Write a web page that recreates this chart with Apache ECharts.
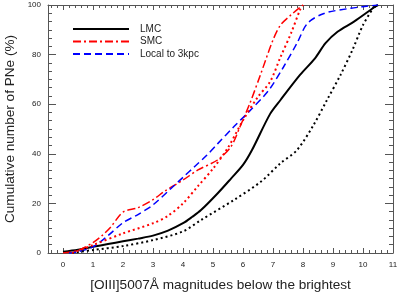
<!DOCTYPE html>
<html><head><meta charset="utf-8">
<script src="https://cdn.jsdelivr.net/npm/echarts@6/dist/echarts.min.js"></script>
<style>html,body{margin:0;padding:0;background:#fff}#c{width:399px;height:296px}</style>
</head><body><div id="c"></div>
<script>
const xTicks = [0,1,2,3,4,5,6,7,8,9,10,11];
const lmc = [[0,0.5],[0.5,1.3],[1,2.5],[1.5,3.6],[2,4.7],[2.5,5.8],[3,7],[3.5,9],[4,12],[4.3,14.5],[4.6,17.3],[5.15,24],[5.6,30],[6,35.5],[6.3,41.5],[6.9,56],[7.25,61.7],[7.9,71.8],[8.4,78.5],[8.75,84.6],[9.15,89.2],[9.7,93.3],[10.4,99.3],[10.5,100]];
const smc = [[0,0],[0.5,1],[1,4.2],[1.3,7],[1.6,10.6],[2,16.5],[2.5,18.3],[3,21.5],[3.4,25],[4,29.4],[4.5,33.5],[5.15,37.5],[5.6,42.9],[5.9,50.9],[6.25,61],[6.6,72.5],[7,85.9],[7.25,91.9],[7.6,96],[8,100]];
const local3 = [[0.2,0],[0.5,0.5],[1,2.5],[1.5,7],[2,12.2],[2.5,15.5],[3,19.4],[3.6,26],[4,30.5],[4.4,35],[4.8,39.5],[5.15,44],[5.7,51],[6.2,57],[6.85,65.5],[7.35,75],[7.8,84.6],[8.15,92.6],[8.7,96.6],[9.6,98.7],[10.5,100]];
const lmcModel = [[0.3,0],[1,1.2],[2,2.8],[3,5.2],[4,8.7],[4.6,13.3],[5.7,21.4],[6.6,28.8],[7.25,36.2],[7.8,41.5],[8.35,51.6],[8.8,61.7],[9.25,71.8],[9.65,81.9],[10,91.9],[10.4,100]];
const smcModel = [[0.3,0],[1,3.2],[2,7.9],[3,12],[3.5,15],[4,20],[4.5,27],[5,34],[5.5,42.5],[6,53.5],[6.5,63],[6.9,69],[7.25,79],[7.6,88.6],[7.9,98],[8,100]];

const axisCol = '#555';
const FF = 'Liberation Sans, Arial, sans-serif';
const lab = {color:'#222', fontSize:8, fontFamily:FF};
function xAx(pos, show){
  return {type:'value', position:pos, min:-0.5, max:11, splitNumber:11,
    axisLine:{show:true, onZero:false, lineStyle:{color:axisCol, width:1}},
    axisTick:{show:true, inside:true, length:5, lineStyle:{color:axisCol}},
    minorTick:{show:true, splitNumber:5, length:3, lineStyle:{color:axisCol}},
    splitLine:{show:false}, minorSplitLine:{show:false},
    axisLabel:{show:show, margin:8, ...lab, formatter:v=> xTicks.indexOf(v)>=0 ? String(v) : ''},
    name: show ? '[OIII]5007Å magnitudes below the brightest' : '',
    nameLocation:'middle', nameGap:25,
    nameTextStyle:{fontSize:13.6, color:'#222', fontFamily:FF}
  };
}
function yAx(pos, show){
  return {type:'value', position:pos, min:0, max:100, interval:20,
    axisLine:{show:true, onZero:false, lineStyle:{color:axisCol, width:1}},
    axisTick:{show:true, inside:true, length:8, lineStyle:{color:axisCol}},
    minorTick:{show:true, splitNumber:6, length:4, lineStyle:{color:axisCol}},
    splitLine:{show:false}, minorSplitLine:{show:false},
    axisLabel:{show:show, margin:7, ...lab},
    name: show ? 'Cumulative number of PNe (%)' : '',
    nameLocation:'middle', nameGap:31, nameRotate:90,
    nameTextStyle:{fontSize:13.6, color:'#222', fontFamily:FF}
  };
}
function ser(name, data, color, type, width){
  return {name, type:'line', data, showSymbol:false, symbol:'none', smooth:0.3,
    lineStyle:{color, width, type}, itemStyle:{color}, z:3, animation:false};
}
const chart = echarts.init(document.getElementById('c'), null, {renderer:'canvas'});
chart.setOption({
  animation:false,
  grid:{left:48, right:6, top:5, bottom:43, containLabel:false, outerBoundsMode:'none'},
  xAxis:[xAx('bottom', true), xAx('top', false)],
  yAxis:[yAx('left', true), yAx('right', false)],
  legend:{show:true, orient:'vertical', left:67, top:19, itemWidth:56, itemHeight:10, itemGap:2.5,
    itemStyle:{opacity:0},
    data:['LMC','SMC','Local to 3kpc'],
    textStyle:{fontSize:10, color:'#222', fontFamily:FF, padding:[0,0,0,6]}},
  series:[
    ser('LMC', lmc, '#000', 'solid', 2),
    ser('SMC', smc, '#ff0000', [8,3,2,3], 1.5),
    ser('Local to 3kpc', local3, '#0000ff', [7,4], 1.5),
    ser('LMC model', lmcModel, '#000', [2,3], 2),
    ser('SMC model', smcModel, '#ff0000', [2,3], 2)
  ]
});
</script></body></html>
